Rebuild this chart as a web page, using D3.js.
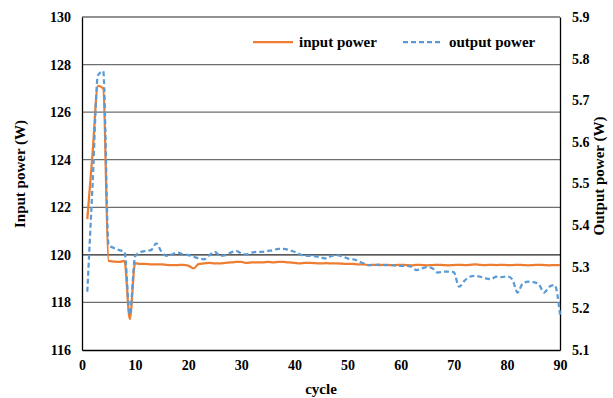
<!DOCTYPE html>
<html><head><meta charset="utf-8">
<script src="https://cdn.jsdelivr.net/npm/d3@7"></script>
<style>body{margin:0;background:#fff}svg{display:block}text{font-family:"Liberation Serif","Times New Roman",serif;font-weight:bold;fill:#000}</style>
</head><body><svg id="c" width="613" height="398"></svg>
<script>
const cycles = d3.range(1, 91);
const inputPower = [121.5,124.3,127.1,127.0,119.75,119.72,119.7,119.75,117.3,119.65,
119.62,119.62,119.6,119.6,119.6,119.58,119.57,119.57,119.58,119.55,
119.43,119.62,119.64,119.66,119.64,119.64,119.66,119.68,119.7,119.7,
119.66,119.68,119.68,119.68,119.7,119.68,119.7,119.7,119.68,119.66,
119.64,119.66,119.66,119.65,119.64,119.65,119.64,119.64,119.63,119.62,
119.62,119.6,119.6,119.57,119.58,119.57,119.58,119.57,119.57,119.58,
119.57,119.56,119.58,119.57,119.56,119.57,119.58,119.57,119.56,119.57,
119.58,119.57,119.58,119.6,119.58,119.57,119.58,119.57,119.58,119.57,
119.57,119.58,119.57,119.56,119.57,119.58,119.57,119.56,119.57,119.57];
const outputPower = [5.24,5.50,5.76,5.77,5.352,5.345,5.34,5.336,5.185,5.325,
5.335,5.338,5.34,5.356,5.335,5.326,5.33,5.334,5.33,5.328,
5.324,5.32,5.318,5.328,5.336,5.326,5.328,5.334,5.338,5.332,
5.33,5.334,5.336,5.336,5.338,5.34,5.343,5.343,5.34,5.336,
5.33,5.326,5.326,5.325,5.322,5.32,5.326,5.328,5.325,5.32,
5.318,5.314,5.308,5.304,5.304,5.305,5.304,5.304,5.303,5.302,
5.302,5.300,5.292,5.296,5.299,5.296,5.286,5.288,5.288,5.287,
5.252,5.266,5.276,5.278,5.276,5.272,5.27,5.276,5.275,5.277,
5.27,5.238,5.26,5.264,5.263,5.258,5.238,5.252,5.256,5.185];
const xTicks = [0,10,20,30,40,50,60,70,80,90];
const leftTicks = [116,118,120,122,124,126,128,130];
const rightTicks = [5.1,5.2,5.3,5.4,5.5,5.6,5.7,5.8,5.9];
const seriesNames = ["input power","output power"];

const svg = d3.select("#c");
const L = 82, R = 560, T = 17, B = 350;
const x = d3.scaleLinear().domain([0,90]).range([L,R]);
const yL = d3.scaleLinear().domain([116,130]).range([B,T]);
const yR = d3.scaleLinear().domain([5.1,5.9]).range([B,T]);

// gridlines
svg.append("g").selectAll("line").data(leftTicks.slice(1)).join("line")
  .attr("x1",L).attr("x2",R).attr("y1",d=>yL(d)).attr("y2",d=>yL(d))
  .attr("stroke",d=>d===120?"#222":"#6e6e6e").attr("stroke-width",1.3);

// axes
const ax = svg.append("g").attr("transform",`translate(0,${B})`)
  .call(d3.axisBottom(x).tickValues(xTicks).tickSize(0).tickPadding(10));
const ayl = svg.append("g").attr("transform",`translate(${L},0)`)
  .call(d3.axisLeft(yL).tickValues(leftTicks).tickSize(0).tickPadding(11).tickFormat(d3.format("d")));
const ayr = svg.append("g").attr("transform",`translate(${R},0)`)
  .call(d3.axisRight(yR).tickValues(rightTicks).tickSize(0).tickPadding(12).tickFormat(d3.format(".1f")));
[ax,ayl,ayr].forEach(g=>{
  g.select(".domain").attr("stroke","#000").attr("stroke-width",1.3);
  g.selectAll("text").style("font-size","14px").style("font-family",'"Liberation Serif",serif').style("font-weight","bold");
});

// lines
const lineIn = d3.line().x((d,i)=>x(cycles[i])).y(d=>yL(d)).curve(d3.curveMonotoneX);
const lineOut = d3.line().x((d,i)=>x(cycles[i])).y(d=>yR(d)).curve(d3.curveMonotoneX);
svg.append("path").datum(inputPower).attr("d",lineIn).attr("fill","none")
  .attr("stroke","#ED7D31").attr("stroke-width",2.25);
svg.append("path").datum(outputPower).attr("d",lineOut).attr("fill","none")
  .attr("stroke","#5B9BD5").attr("stroke-width",2.25).attr("stroke-dasharray","5,3");

// legend
svg.append("line").attr("x1",253).attr("x2",293).attr("y1",42).attr("y2",42)
  .attr("stroke","#ED7D31").attr("stroke-width",2.25);
svg.append("text").attr("x",299).attr("y",47).style("font-size","15px").text(seriesNames[0]);
svg.append("line").attr("x1",403).attr("x2",442).attr("y1",42).attr("y2",42)
  .attr("stroke","#5B9BD5").attr("stroke-width",2.25).attr("stroke-dasharray","5,3");
svg.append("text").attr("x",449).attr("y",47).style("font-size","15px").text(seriesNames[1]);

// axis titles
svg.append("text").attr("transform","translate(25,174) rotate(-90)").attr("text-anchor","middle")
  .style("font-size","15px").text("Input power (W)");
svg.append("text").attr("transform","translate(604,176) rotate(-90)").attr("text-anchor","middle")
  .style("font-size","15px").text("Output power (W)");
svg.append("text").attr("x",(L+R)/2).attr("y",394).attr("text-anchor","middle")
  .style("font-size","15px").text("cycle");
</script></body></html>
